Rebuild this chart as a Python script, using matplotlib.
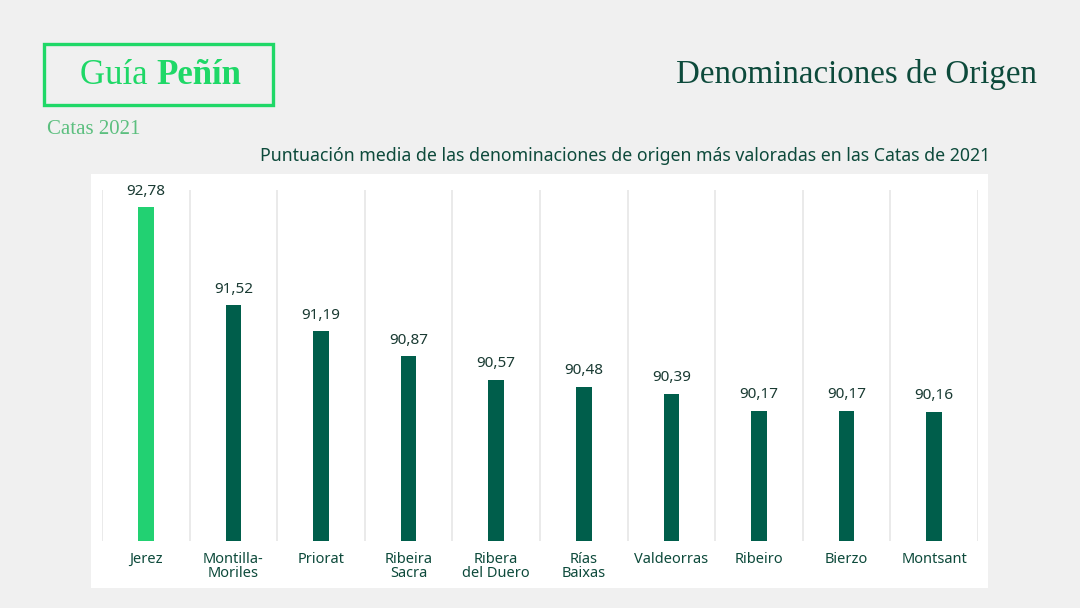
import numpy as np
import matplotlib.pyplot as plt
from matplotlib.patches import Rectangle

# Data
regions = ["Jerez", "Montilla-\nMoriles", "Priorat", "Ribeira\nSacra", "Ribera\ndel Duero",
           "Rías\nBaixas", "Valdeorras", "Ribeiro", "Bierzo", "Montsant"]
scores = [92.78, 91.52, 91.19, 90.87, 90.57, 90.48, 90.39, 90.17, 90.17, 90.16]

light_green = "#22d172"
dark_green = "#005e4b"
text_green = "#0d4a3b"
bg = "#f0f0f0"

fig = plt.figure(figsize=(10.8, 6.08), dpi=100, facecolor=bg)
W, H = 1080, 608

# white panel behind the chart
fig.patches.append(Rectangle((91 / W, 1 - 588 / H), (988 - 91) / W, (588 - 174) / H,
                             transform=fig.transFigure, facecolor="white", edgecolor="none", zorder=-5))

# logo box
fig.patches.append(Rectangle((44 / W, 1 - 105 / H), (273 - 44) / W, (105 - 44) / H,
                             transform=fig.transFigure, facecolor="none", edgecolor="#1fd867",
                             linewidth=2.4, zorder=1))
fig.text(156 / W, 1 - 75 / H, "Guía ", ha="right", va="center", fontsize=25,
         family="Liberation Serif", color="#1fd867")
fig.text(156 / W, 1 - 75 / H, "Peñín", ha="left", va="center", fontsize=25,
         family="Liberation Serif", weight="bold", color="#1fd867")
fig.text(47 / W, 1 - 129 / H, "Catas 2021", ha="left", va="center", fontsize=15,
         family="Liberation Serif", color="#5cbf7f")

fig.text(1037 / W, 1 - 74 / H, "Denominaciones de Origen", ha="right", va="center",
         fontsize=23.8, family="Liberation Serif", color=text_green)
fig.text(990 / W, 1 - 156 / H,
         "Puntuación media de las denominaciones de origen más valoradas en las Catas de 2021",
         ha="right", va="center", fontsize=12.75, family="Noto Sans", color=text_green)

ax = fig.add_axes([102 / W, 1 - 541 / H, (978 - 102) / W, (541 - 190) / H])
ax.patch.set_alpha(0)

x = np.arange(len(regions))
colors = [light_green] + [dark_green] * (len(regions) - 1)
ax.bar(x, scores, width=0.18, color=colors, zorder=2)

ax.set_ylim(88.5, 93.0)
ax.set_xlim(-0.5, len(regions) - 0.5)

for xi, v in zip(x, scores):
    ax.text(xi, v + 0.11, f"{v:.2f}".replace(".", ","), ha="center", va="bottom",
            fontsize=11, family="Noto Sans", color="#1a3b33")

# vertical separators
for b in np.arange(-0.5, len(regions), 1.0):
    ax.axvline(b, color="#e6e6e6", linewidth=1.2, zorder=1)

ax.set_xticks(x)
ax.set_xticklabels(regions, fontsize=10.5, family="Noto Sans", color=text_green, linespacing=0.9)
ax.tick_params(axis="x", length=0, pad=8)
ax.set_yticks([])
for s in ax.spines.values():
    s.set_visible(False)

fig.savefig("out.png", dpi=100, facecolor=bg)
